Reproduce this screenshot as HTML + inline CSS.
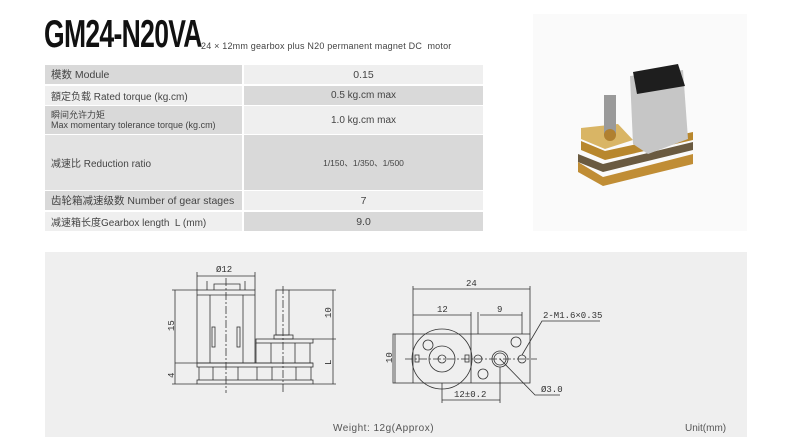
<!DOCTYPE html>
<html><head><meta charset="utf-8"><style>
*{margin:0;padding:0;box-sizing:border-box}
body{width:792px;height:445px;background:#fff;position:relative;overflow:hidden;font-family:"Liberation Sans","Noto Sans CJK SC",sans-serif;color:#333}
.t{position:absolute;left:44px;top:13px;font-family:"Liberation Sans",sans-serif;font-weight:bold;font-size:39px;color:#111;letter-spacing:-1px;transform:scaleX(0.68);transform-origin:left;white-space:nowrap}
.st{position:absolute;left:201px;top:41px;font-size:9px;color:#444;letter-spacing:0.2px}
.c{position:absolute;display:flex;align-items:center;font-size:10.5px;color:#444}
.l{left:45px;width:197px;padding-left:6px}
.r{left:244px;width:239px;justify-content:center}
.d{background:#d9d9d9}.w{background:#efefef}.m{background:#e3e3e3}
.ph{position:absolute;left:533px;top:14px;width:214px;height:217px;background:#fafafa}
.pn{position:absolute;left:45px;top:252px;width:702px;height:185px;background:#efefef}
</style></head><body>
<div class="t">GM24-N20VA</div>
<div class="st">24 × 12mm gearbox plus N20 permanent magnet DC&nbsp; motor</div>
<div class="c l d" style="top:65px;height:19px">模数 Module</div>
<div class="c r w" style="top:65px;height:19px">0.15</div>
<div class="c l w" style="top:86px;height:19px;font-size:10px">額定负载 Rated torque (kg.cm)</div>
<div class="c r d" style="top:86px;height:19px;font-size:10px">0.5 kg.cm max</div>
<div class="c l d" style="top:106px;height:28px;font-size:9px;line-height:10px;display:block;padding-top:4px">瞬间允许力矩<br>Max momentary tolerance torque (kg.cm)</div>
<div class="c r w" style="top:106px;height:28px;font-size:10px">1.0 kg.cm max</div>
<div class="c l m" style="top:135px;height:55px;font-size:10px">减速比 Reduction ratio</div>
<div class="c r d" style="top:135px;height:55px;font-size:8.5px">1/150、1/350、1/500</div>
<div class="c l d" style="top:191px;height:19px;font-size:10.5px">齿轮箱减速级数 Number of gear stages</div>
<div class="c r w" style="top:191px;height:19px">7</div>
<div class="c l w" style="top:212px;height:19px;font-size:10px">减速箱长度Gearbox length&nbsp; L (mm)</div>
<div class="c r d" style="top:212px;height:19px">9.0</div>
<div class="ph">
<svg width="214" height="217" viewBox="0 0 214 217">
<polygon points="45,148 70,163 160,140 160,150 70,172 45,158" fill="#c08d35"/>
<polygon points="45,140 70,150 160,128 160,136 70,158 45,148" fill="#6a5a40"/>
<polygon points="48,127 72,137 160,118 160,126 72,146 48,136" fill="#b8872d"/>
<polygon points="97,62 150,56 155,125 115,140 100,130" fill="#c6c6c6"/>
<polygon points="100,58 145,50 152,72 104,80" fill="#1e1e1e"/>
<polygon points="48,114 85,110 100,126 72,135 48,125" fill="#d9b565"/>
<rect x="71" y="81" width="12" height="40" fill="#9a9a9a"/>
<circle cx="77" cy="121" r="6" fill="#b08030"/>
</svg></div>
<div class="pn"></div>
<svg style="position:absolute;left:0;top:0" width="792" height="445" viewBox="0 0 792 445" fill="none" stroke="#333" stroke-width="0.8" font-family="Liberation Mono,monospace" font-size="9">
<g>
<line x1="197" y1="276" x2="255" y2="276"/><line x1="197" y1="272" x2="197" y2="290"/><line x1="255" y1="272" x2="255" y2="290"/>
<text x="216" y="272" fill="#333" stroke="none">Ø12</text>
<rect x="197" y="290" width="58" height="73"/><line x1="197" y1="295" x2="255" y2="295"/>
<line x1="210" y1="295" x2="210" y2="363"/><line x1="243" y1="295" x2="243" y2="363"/>
<rect x="212" y="327" width="3" height="20"/><rect x="237" y="327" width="3" height="20"/>
<line x1="207" y1="281" x2="207" y2="290"/><line x1="245" y1="281" x2="245" y2="290"/>
<polyline points="214,290 214,284 240,284 240,290"/>
<rect x="256" y="339" width="57" height="4"/>
<line x1="256" y1="343" x2="256" y2="363"/><line x1="271" y1="343" x2="271" y2="363"/><line x1="295" y1="343" x2="295" y2="363"/><line x1="310" y1="343" x2="310" y2="363"/>
<rect x="276" y="290" width="13" height="45"/><rect x="274" y="335" width="19" height="4"/>
<line x1="175" y1="363" x2="313" y2="363"/><rect x="197" y="363" width="116" height="4"/>
<line x1="199" y1="367" x2="199" y2="380"/><line x1="213" y1="367" x2="213" y2="380"/><line x1="238" y1="367" x2="238" y2="380"/><line x1="257" y1="367" x2="257" y2="380"/><line x1="272" y1="367" x2="272" y2="380"/><line x1="296" y1="367" x2="296" y2="380"/><line x1="311" y1="367" x2="311" y2="380"/>
<rect x="197" y="380" width="116" height="4"/>
<line x1="175" y1="290" x2="175" y2="384"/><line x1="172" y1="290" x2="197" y2="290"/><line x1="172" y1="384" x2="197" y2="384"/>
<line x1="333" y1="290" x2="333" y2="384"/><line x1="289" y1="290" x2="336" y2="290"/><line x1="313" y1="339" x2="336" y2="339"/><line x1="313" y1="384" x2="336" y2="384"/>
<text transform="translate(174,331) rotate(-90)" fill="#333" stroke="none">15</text>
<text transform="translate(174,378) rotate(-90)" fill="#333" stroke="none">4</text>
<text transform="translate(331,318) rotate(-90)" fill="#333" stroke="none">10</text>
<text transform="translate(331,365) rotate(-90)" fill="#333" stroke="none">L</text>
<line x1="226" y1="278" x2="226" y2="393" stroke-dasharray="8,2,2,2"/><line x1="283" y1="286" x2="283" y2="393" stroke-dasharray="8,2,2,2"/>
</g>
<g>
<rect x="393" y="334" width="137" height="49"/>
<line x1="413" y1="286" x2="413" y2="383"/><line x1="471" y1="312" x2="471" y2="383"/><line x1="478" y1="312" x2="478" y2="334"/><line x1="522" y1="312" x2="522" y2="334"/><line x1="530" y1="286" x2="530" y2="334"/>
<line x1="413" y1="289" x2="530" y2="289"/><text x="466" y="286" fill="#333" stroke="none">24</text>
<line x1="413" y1="315" x2="471" y2="315"/><text x="437" y="312" fill="#333" stroke="none">12</text>
<line x1="480" y1="315" x2="522" y2="315"/><text x="497" y="312" fill="#333" stroke="none">9</text>
<line x1="395" y1="334" x2="395" y2="383"/><text transform="translate(392,363) rotate(-90)" fill="#333" stroke="none">10</text>
<circle cx="442" cy="359" r="30"/><circle cx="442" cy="359" r="13"/><circle cx="442" cy="359" r="4"/>
<circle cx="428" cy="345" r="5"/><circle cx="483" cy="374" r="5"/><circle cx="516" cy="342" r="5"/>
<circle cx="478" cy="359" r="4"/><circle cx="522" cy="359" r="4"/>
<circle cx="500" cy="359" r="8"/><circle cx="500" cy="359" r="6"/>
<rect x="415" y="355" width="4" height="7"/><rect x="465" y="355" width="4" height="7"/>
<line x1="405" y1="359" x2="537" y2="359" stroke-dasharray="8,2,2,2"/>
<polyline points="522,355 542,321 600,321"/><text x="543" y="318" fill="#333" stroke="none">2-M1.6×0.35</text>
<polyline points="500,359 535,395 560,395"/><text x="541" y="392" fill="#333" stroke="none">Ø3.0</text>
<line x1="442" y1="383" x2="442" y2="403"/><line x1="500" y1="367" x2="500" y2="403"/>
<line x1="442" y1="400" x2="500" y2="400"/><text x="454" y="397" fill="#333" stroke="none">12±0.2</text>
</g>
<text x="333" y="431" fill="#555" stroke="none" font-family="Liberation Sans,sans-serif" font-size="10" letter-spacing="0.5">Weight: 12g(Approx)</text>
<text x="685" y="431" fill="#555" stroke="none" font-family="Liberation Sans,sans-serif" font-size="10">Unit(mm)</text>
</svg>
</body></html>
